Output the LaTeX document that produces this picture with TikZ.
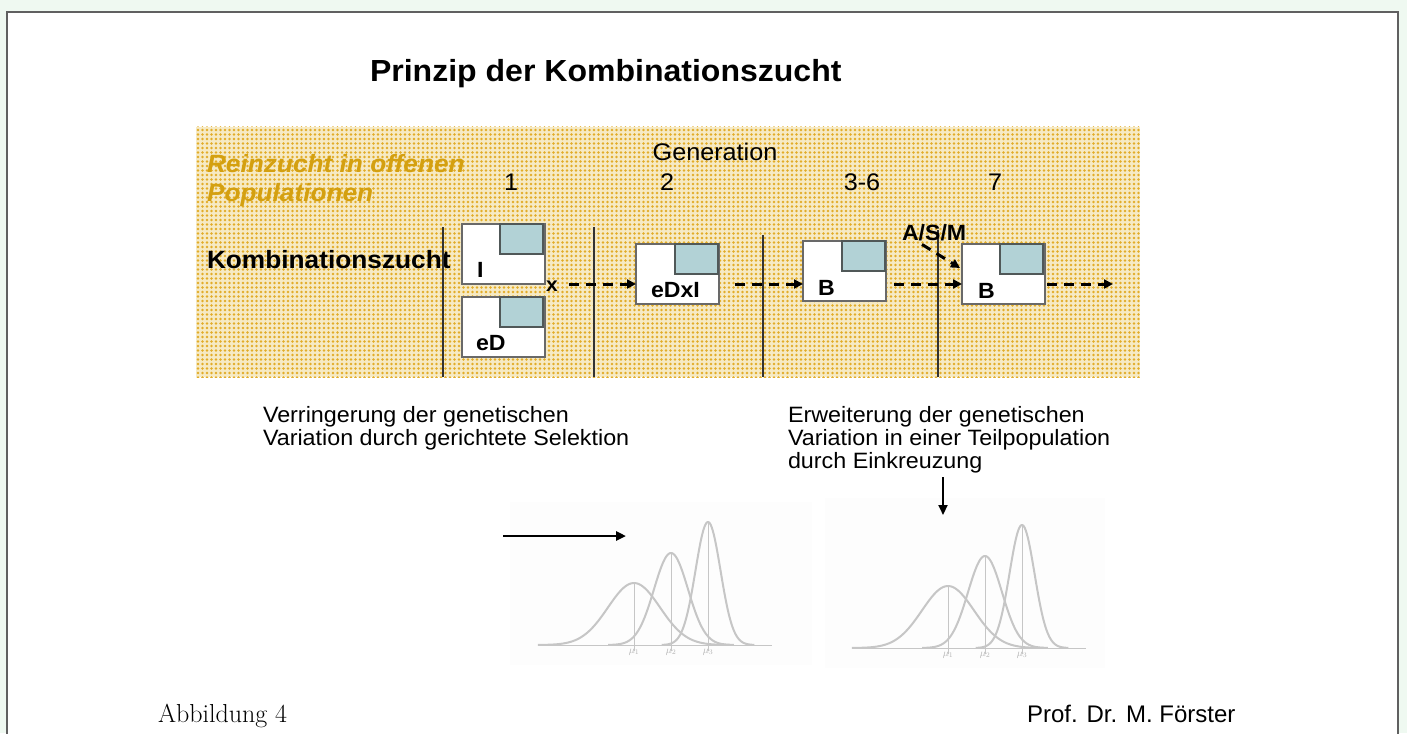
\documentclass[tikz,border=0pt]{standalone}
\usepackage{fontspec}
\newfontfamily\wsans{Liberation Sans}[FakeStretch=1.05]
\newfontfamily\plainsans{Liberation Sans}
\usetikzlibrary{arrows.meta,patterns.meta,calc}

\definecolor{pagegreen}{RGB}{239,249,241}
\definecolor{framegray}{RGB}{96,96,96}
\definecolor{dotbg}{RGB}{246,234,196}
\definecolor{dotfg}{RGB}{226,172,40}
\definecolor{goldtext}{RGB}{212,160,16}
\definecolor{boxgray}{RGB}{105,105,105}
\definecolor{tealfill}{RGB}{178,210,214}
\definecolor{tealline}{RGB}{80,88,88}
\definecolor{divgray}{RGB}{50,50,50}
\definecolor{curvegray}{RGB}{198,198,198}
\definecolor{photobg}{RGB}{253,253,253}

\tikzdeclarepattern{
  name=golddots,
  type=uncolored,
  bounding box={(-2.25pt,-2.25pt) and (2.25pt,2.25pt)},
  tile size={(4.5pt,4.5pt)},
  code={\fill (0pt,0pt) circle (1.35pt);}
}

\newcommand\fsz[2]{\fontsize{#1pt}{#2pt}\selectfont}

\begin{document}
\begin{tikzpicture}[x=1pt,y=-1pt,
  every node/.style={inner sep=0pt, outer sep=0pt},
  box/.style={draw=boxgray, line width=1.3pt, fill=white,
    minimum width=83pt, minimum height=60pt, anchor=north west},
  patch/.style={draw=tealline, line width=1.3pt, fill=tealfill,
    minimum width=43pt, minimum height=30pt, anchor=north east},
  blabel/.style={font=\wsans\bfseries\fsz{22}{26}, anchor=base west},
  numlabel/.style={font=\wsans\fsz{24}{28}, anchor=base},
  note/.style={font=\wsans\fsz{22.2}{23}, align=left, anchor=north west},
  dasharrow/.style={line width=3pt, dash pattern=on 10pt off 7pt,
    -{Triangle[length=9pt,width=9pt]}},
  bigarrow/.style={line width=2.6pt, -{Triangle[length=10pt,width=9pt]}},
  divider/.style={draw=divgray, line width=1.3pt},
  curve/.style={draw=curvegray, line width=2pt},
  meanline/.style={draw=curvegray, line width=1pt},
  mulabel/.style={font=\fsz{10}{11}, text=gray!60, anchor=north}
]
\useasboundingbox (0,0) rectangle (1407,733);

% page and frame
\fill[pagegreen] (0,0) rectangle (1407,733);
\draw[framegray, line width=2pt, fill=white] (7,12) rectangle (1398,745);

% title
\node[font=\wsans\bfseries\fsz{30.5}{36}, anchor=base west] (title) at (370,82)
  {Prinzip der Kombinationszucht};

% dotted band
\fill[dotbg] (196,127) rectangle (1140,377);
\fill[pattern=golddots, pattern color=dotfg] (196,127) rectangle (1140,377);

% band headings
\node[font=\wsans\bfseries\itshape\fsz{25}{29.5}, text=goldtext,
  anchor=base west] (rein) at (207,172) {Reinzucht in offenen};
\node[font=\wsans\bfseries\itshape\fsz{25}{29.5}, text=goldtext,
  anchor=base west] (popu) at (207,201.5) {Populationen};
\node[numlabel] (gen) at (715,160) {Generation};
\node[numlabel] (g1) at (511,190) {1};
\node[numlabel] (g2) at (667,190) {2};
\node[numlabel] (g36) at (862,190) {3-6};
\node[numlabel] (g7) at (995,190) {7};
\node[font=\wsans\bfseries\fsz{25}{29}, anchor=base west] (kombi) at (207,268)
  {Kombinationszucht};

% generation dividers
\draw[divider] (443,227) -- (443,377);
\draw[divider] (594,227) -- (594,377);
\draw[divider] (763,235) -- (763,377);
\draw[divider] (938,230) -- (938,377);

% breeding stock boxes
\node[box] (I) at (462,224) {};
\node[patch] (Ip) at ($(I.north east)+(-2,0)$) {};
\node[blabel] (Il) at (477,277) {I};

\node[box] (eD) at (462,297) {};
\node[patch] (eDp) at ($(eD.north east)+(-2,0)$) {};
\node[blabel] (eDl) at (476,350) {eD};

\node[box] (eDxI) at (636,244) {};
\node[patch] (eDxIp) at ($(eDxI.north east)+(-1,0)$) {};
\node[blabel] (eDxIl) at (651,297) {eDxI};

\node[box] (B1) at (803,241) {};
\node[patch] (B1p) at ($(B1.north east)+(-1,0)$) {};
\node[blabel] (B1l) at (818,295) {B};

\node[box] (B2) at (962,244) {};
\node[patch] (B2p) at ($(B2.north east)+(-2,0)$) {};
\node[blabel] (B2l) at (978,298) {B};

\node[font=\wsans\bfseries\fsz{20}{24}, anchor=base] (xl) at (552,291) {x};
\node[font=\wsans\bfseries\fsz{22}{26}, anchor=base west] (asm) at (902,240) {A/S/M};

% generation flow
\coordinate (row) at (0,284);
\coordinate (tail) at (1113,284);
\draw[dasharrow] ($(xl.east |- row)+(11,0)$) -- (eDxI.west |- row);
\draw[dasharrow] ($(eDxI.east |- row)+(16,0)$) -- (B1.west |- row);
\draw[dasharrow] ($(B1.east |- row)+(8,0)$) -- (B2.west |- row);
\draw[dasharrow] ($(B2.east |- row)+(2,0)$) -- (tail);
\draw[dasharrow] ($(asm.south west)+(20,4)$) -- ($(B2.west)+(-2,-6)$);

% explanations
\node[note] (verr) at (263,406)
  {Verringerung der genetischen\\Variation durch gerichtete Selektion};
\node[note] (erw) at (788,406)
  {Erweiterung der genetischen\\Variation in einer Teilpopulation\\durch Einkreuzung};

% distribution sketches
\fill[photobg] (510,502) rectangle (812,665);
\fill[photobg] (825,498) rectangle (1105,668);

\foreach \bx/\by in {0/645, 314/648}{
  \draw[meanline] (543+\bx,\by) -- (772+\bx,\by);
  \foreach \m/\s/\h/\k in {634/26/62/1, 671/17/92/2, 708/12.5/123/3}{
    \pgfmathsetmacro\lo{\m+\bx-3.7*\s}
    \pgfmathsetmacro\hi{\m+\bx+3.7*\s}
    \pgfmathsetmacro\mm{\m+\bx}
    \draw[curve] plot[domain=\lo:\hi, samples=90, smooth]
      (\x, {\by-\h*exp(-((\x-\mm)^2)/(2*\s*\s))});
    \draw[meanline] (\mm,\by-\h) -- (\mm,\by+6);
    \node[mulabel] at (\mm,\by+4) {$\mu_{\k}$};
  }
}

% direction arrows
\coordinate (s1) at (503,536);
\coordinate (s1e) at (626,536);
\draw[bigarrow] (s1) -- (s1e);
\coordinate (d1) at (943,477);
\coordinate (d1e) at (943,515);
\draw[bigarrow, line width=2pt] (d1) -- (d1e);

% footer
\node[font=\fsz{26}{30}, anchor=base west] (abb) at (158,722) {Abbildung 4};
\node[font=\plainsans\fsz{24}{28}, anchor=base west] (prof) at (1027,722) {Prof. Dr. M. Förster};
\end{tikzpicture}
\end{document}
